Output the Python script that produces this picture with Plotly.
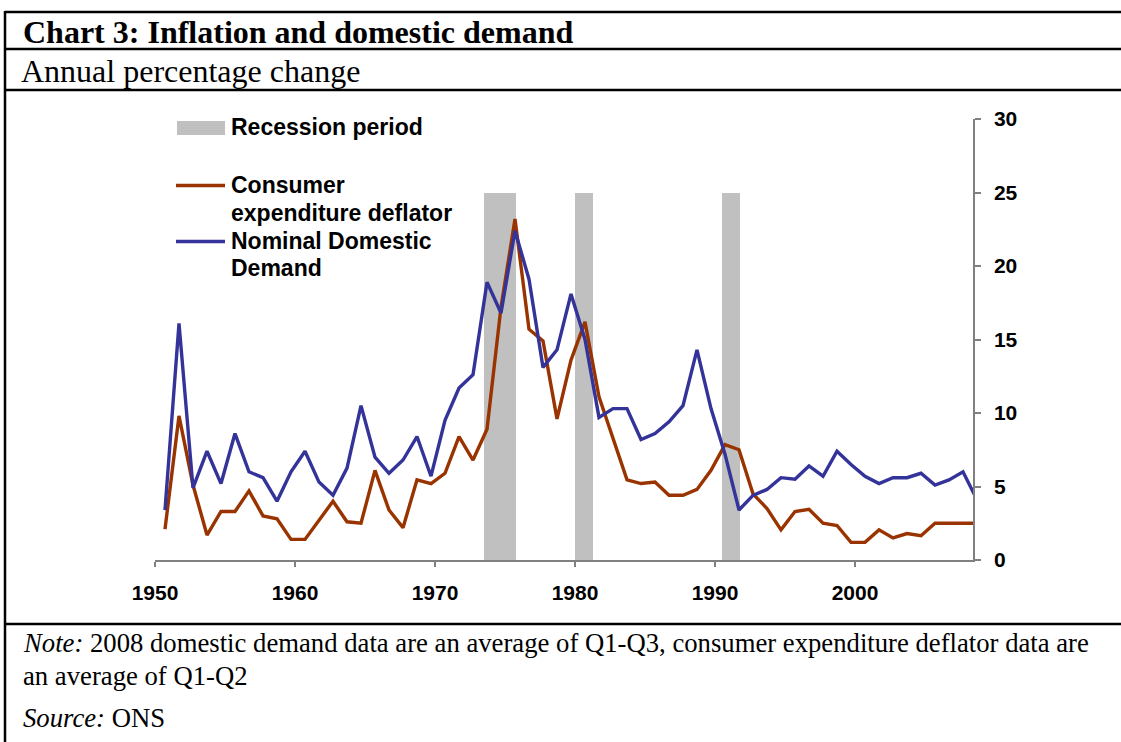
import plotly.graph_objects as go

# ---------------- data ----------------
years = list(range(1950, 2009))

consumer_deflator = [
    2.1, 9.8, 5.1, 1.7, 3.3, 3.3, 4.7, 3.0, 2.8, 1.4,
    1.4, 2.7, 4.0, 2.6, 2.5, 6.1, 3.4, 2.2, 5.45, 5.2,
    5.9, 8.4, 6.8, 8.9, 17.2, 23.2, 15.7, 14.9, 9.6, 13.6,
    16.2, 11.1, 8.2, 5.45, 5.2, 5.3, 4.4, 4.4, 4.8, 6.1,
    7.85, 7.5, 4.5, 3.5, 2.05, 3.3, 3.45, 2.5, 2.35, 1.2,
    1.2, 2.05, 1.5, 1.8, 1.65, 2.5, 2.5, 2.5, 2.5,
]

nominal_domestic_demand = [
    3.4, 16.1, 4.9, 7.4, 5.2, 8.6, 6.0, 5.6, 4.0, 6.0,
    7.4, 5.3, 4.4, 6.25, 10.5, 7.0, 5.9, 6.8, 8.4, 5.7,
    9.5, 11.7, 12.6, 18.9, 16.8, 22.4, 19.1, 13.1, 14.3, 18.1,
    15.0, 9.7, 10.3, 10.3, 8.2, 8.6, 9.4, 10.5, 14.3, 10.3,
    7.2, 3.4, 4.4, 4.8, 5.6, 5.5, 6.4, 5.7, 7.4, 6.5,
    5.7, 5.2, 5.6, 5.6, 5.9, 5.1, 5.45, 6.0, 4.1,
]

# recession periods (start, end) in fractional years
recession_start = [1973.5, 1980.0, 1990.5]
recession_end = [1975.75, 1981.25, 1991.75]
recession_height = 25

x_ticks = [1950, 1960, 1970, 1980, 1990, 2000]
x_tick_labels = ["1950", "1960", "1970", "1980", "1990", "2000"]
y_ticks = [0, 5, 10, 15, 20, 25, 30]

# annual observations plotted late within each year
POINT_OFFSET = 10 / 14
x_points = [y + POINT_OFFSET for y in years]

RED = "#993300"
BLUE = "#333399"
GREY = "#C0C0C0"
AXIS = "#808080"

# ---------------- figure ----------------
W, H = 1121, 742
L, R, T, B = 155, 973, 119, 560


def px_x(px):
    return (px - L) / (R - L)


def px_y(py):
    return (B - py) / (B - T)


fig = go.Figure()

fig.add_trace(go.Bar(
    x=[(s + e) / 2 for s, e in zip(recession_start, recession_end)],
    y=[recession_height] * len(recession_start),
    width=[e - s for s, e in zip(recession_start, recession_end)],
    marker=dict(color=GREY, line=dict(width=0)),
    name="Recession period",
    showlegend=False,
    hoverinfo="skip",
))

fig.add_trace(go.Scatter(
    x=x_points, y=consumer_deflator, mode="lines",
    line=dict(color=RED, width=3.4),
    name="Consumer expenditure deflator", showlegend=False,
))
fig.add_trace(go.Scatter(
    x=x_points, y=nominal_domestic_demand, mode="lines",
    line=dict(color=BLUE, width=3.4),
    name="Nominal Domestic Demand", showlegend=False,
))

tick_font = dict(family="Liberation Sans, Arial", size=21, color="black", weight="bold")

fig.update_layout(
    width=W, height=H,
    margin=dict(l=L, r=W - R, t=T, b=H - B, pad=0),
    paper_bgcolor="white", plot_bgcolor="white",
    bargap=0,
    xaxis=dict(
        range=[1950, 1950 + (R - L) / 14],
        tickmode="array", tickvals=x_ticks, ticktext=x_tick_labels,
        ticks="outside", ticklen=5, tickwidth=1.5, tickcolor=AXIS,
        showline=True, linecolor=AXIS, linewidth=1.5,
        showgrid=False, zeroline=False,
        tickfont=tick_font, ticklabelstandoff=8,
    ),
    yaxis=dict(
        range=[0, 30], side="right",
        tickmode="array", tickvals=y_ticks,
        ticks="outside", ticklen=6, tickwidth=1.5, tickcolor=AXIS,
        showline=True, linecolor=AXIS, linewidth=1.5,
        showgrid=False, zeroline=False,
        tickfont=tick_font, ticklabelstandoff=9,
    ),
)

# ---------------- frame lines ----------------
frame = [
    (5, 12, W, 12), (5, 49, W, 49), (5, 90, W, 90), (5, 624, W, 624),
    (5, 11, 5, H),
]
for x0, y0, x1, y1 in frame:
    fig.add_shape(type="line", xref="paper", yref="paper",
                  x0=px_x(x0), y0=px_y(y0), x1=px_x(x1), y1=px_y(y1),
                  line=dict(color="black", width=2.5))

serif = "Liberation Serif, Times New Roman"
sans = "Liberation Sans, Arial"

texts = [
    ("<b>Chart 3: Inflation and domestic demand</b>", 21, 32, serif, 32),
    ("Annual percentage change", 19, 71, serif, 32),
    ("<i>Note:</i> 2008 domestic demand data are an average of Q1-Q3, consumer expenditure deflator data are",
     21, 643, serif, 26.7),
    ("an average of Q1-Q2", 21, 676, serif, 26.7),
    ("<i>Source:</i> ONS", 21, 718, serif, 26.7),
    ("<b>Recession period</b>", 229, 127, sans, 23),
    ("<b>Consumer</b>", 229, 185, sans, 23),
    ("<b>expenditure deflator</b>", 229, 213, sans, 23),
    ("<b>Nominal Domestic</b>", 229, 241, sans, 23),
    ("<b>Demand</b>", 229, 268, sans, 23),
]
for txt, x, y, fam, size in texts:
    fig.add_annotation(text=txt, xref="paper", yref="paper",
                       x=px_x(x), y=px_y(y), xanchor="left", yanchor="middle",
                       showarrow=False, font=dict(family=fam, size=size, color="black"))

# legend keys
fig.add_shape(type="rect", xref="paper", yref="paper",
              x0=px_x(177), x1=px_x(225), y0=px_y(135), y1=px_y(121),
              fillcolor=GREY, line=dict(width=0))
fig.add_shape(type="line", xref="paper", yref="paper",
              x0=px_x(176), x1=px_x(225), y0=px_y(185.5), y1=px_y(185.5),
              line=dict(color=RED, width=3.4))
fig.add_shape(type="line", xref="paper", yref="paper",
              x0=px_x(176), x1=px_x(225), y0=px_y(241.5), y1=px_y(241.5),
              line=dict(color=BLUE, width=3.4))

fig.write_html("out.html", config={"displayModeBar": False},
               post_script="document.body.style.margin='0px';document.body.style.padding='0px';")
